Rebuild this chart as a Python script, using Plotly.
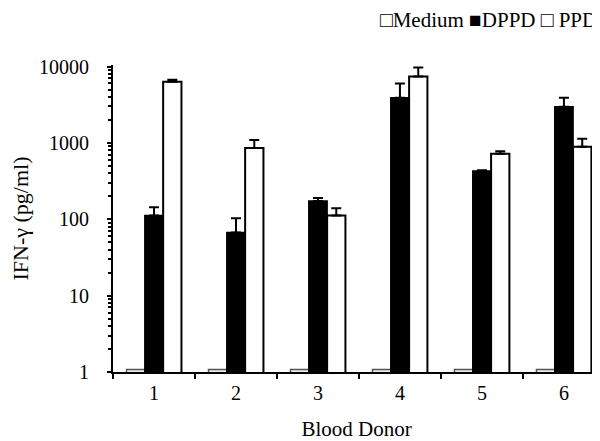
import plotly.graph_objects as go

donors = ["1", "2", "3", "4", "5", "6"]
medium = [1.08, 1.08, 1.08, 1.08, 1.08, 1.08]
dppd = [112, 67, 173, 3900, 427, 2970]
dppd_err = [32, 36, 17, 2100, 10, 930]
ppd = [6300, 855, 112, 7400, 720, 890]
ppd_err = [400, 235, 27, 2300, 60, 240]
legend_text = "□Medium ■DPPD □ PPD"

font = "Liberation Serif"
fig = go.Figure()
fig.add_bar(x=donors, y=medium, name="Medium", showlegend=False,
            marker=dict(color="#eeeeee", line=dict(color="#555555", width=1.5)))
fig.add_bar(x=donors, y=dppd, name="DPPD", showlegend=False,
            marker=dict(color="black", line=dict(color="black", width=1.5)),
            error_y=dict(type="data", array=dppd_err, arrayminus=[0]*6, symmetric=False,
                         color="black", thickness=2, width=5))
fig.add_bar(x=donors, y=ppd, name="PPD", showlegend=False,
            marker=dict(color="white", line=dict(color="black", width=2)),
            error_y=dict(type="data", array=ppd_err, arrayminus=[0]*6, symmetric=False,
                         color="black", thickness=2, width=5))

# page body has an 8px margin, so the figure is sized 592x433
fig.add_annotation(text=legend_text, xref="paper", yref="paper", x=0.997, xanchor="right",
                   y=1.145, yanchor="middle", showarrow=False,
                   font=dict(family=font, size=21, color="black"))

fig.update_layout(
    width=592, height=433,
    margin=dict(l=105, r=0, t=57, b=69),
    plot_bgcolor="white", paper_bgcolor="white",
    barmode="group", bargap=0.33, bargroupgap=0,
    font=dict(family=font, size=20, color="black"),
    showlegend=False,
    xaxis=dict(title=dict(text="Blood Donor", standoff=20, font=dict(size=21)), type="category",
               range=[-0.5, 5.44], showline=True, linecolor="black", linewidth=2,
               ticks="outside", tickson="boundaries", ticklen=5, tickwidth=2,
               tickcolor="black", showgrid=False, automargin=False, ticklabelstandoff=2),
    yaxis=dict(title=dict(text="IFN-γ (pg/ml)", standoff=12, font=dict(size=22)), type="log",
               range=[0, 4.02], tickvals=[1, 10, 100, 1000, 10000],
               ticktext=["1", "10", "100", "1000", "10000"],
               showline=True, linecolor="black", linewidth=2,
               ticks="outside", ticklen=4, tickwidth=2, tickcolor="black",
               minor=dict(ticks="outside", ticklen=3, tickwidth=1.5, tickcolor="black",
                          dtick="D1", showgrid=False),
               showgrid=False, zeroline=False, automargin=False, ticklabelstandoff=14),
)
fig.write_html("out.html")
